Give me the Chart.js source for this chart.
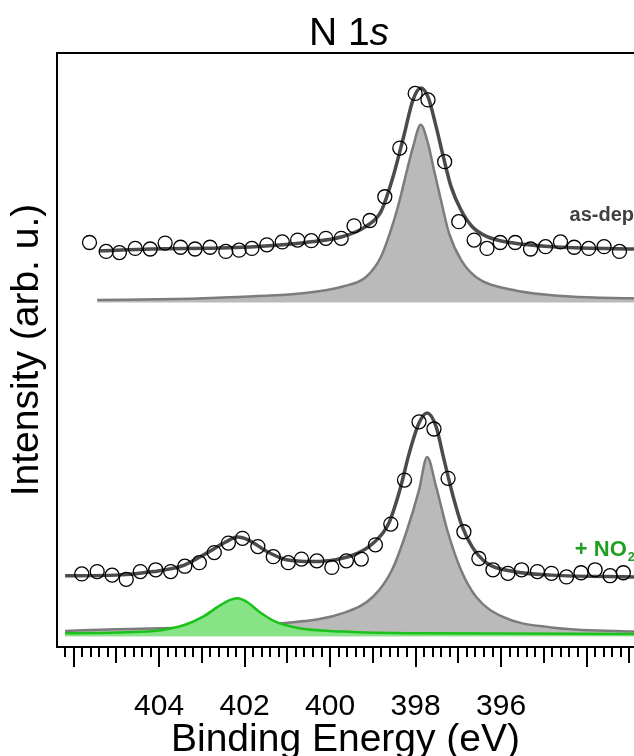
<!DOCTYPE html>
<html lang="en">
<head>
  <meta charset="UTF-8">
  <title>N 1s XPS</title>
  <script src="https://cdn.jsdelivr.net/npm/chart.js"></script>
  <style>
    html, body {
      margin: 0;
      overflow: hidden;
      background: #fff;
    }
    .chart-box {
      width: 634px;
      height: 756px;
    }
    canvas {
      display: block;
    }
  </style>
</head>
<body>
  <div class="chart-box">
    <canvas id="xpsChart"></canvas>
  </div>

  <script>
    // binding energy axis labels
    const energyTicks = [404, 402, 400, 398, 396];

    // as-deposited film: measured points
    const asDepEnergy = [405.63, 405.24, 404.93, 404.56, 404.21, 403.86, 403.50, 403.16, 402.81, 402.44,
      402.13, 401.83, 401.48, 401.12, 400.76, 400.44, 400.10, 399.74, 399.44, 399.07,
      398.72, 398.37, 398.01, 397.71, 397.32, 396.99, 396.63, 396.33, 396.02, 395.67,
      395.31, 394.96, 394.61, 394.29, 393.95, 393.59, 393.23];
    const asDepCounts = [68.1, 66.6, 66.4, 67.1, 67.0, 68.0, 67.3, 67.0, 67.3, 66.6,
      66.8, 67.1, 67.7, 68.2, 68.5, 68.4, 68.8, 68.8, 70.9, 71.8,
      75.8, 84.0, 93.2, 92.1, 81.7, 71.6, 68.5, 67.1, 68.1, 68.1,
      67.0, 67.4, 68.2, 67.3, 67.1, 67.4, 66.6];

    // as-deposited film: fit envelope
    const asDepFitEnergy = [405.41, 404.19, 402.35, 401.34, 400.58, 399.70, 399.16, 398.81, 398.55, 398.28,
      398.06, 397.88, 397.71, 397.52, 397.35, 397.17, 396.94, 396.68, 396.33, 395.71, 394.82, 392.89];
    const asDepFitCounts = [66.7, 67.0, 67.2, 67.6, 68.1, 69.1, 70.8, 73.3, 78.6, 85.9,
      92.1, 94.1, 92.6, 87.6, 82.5, 77.5, 73.6, 70.8, 69.1, 68.0, 67.4, 67.0];

    // as-deposited film: N 1s component
    const asDepPeakEnergy = [405.45, 403.62, 402.35, 400.58, 399.70, 399.16, 398.81, 398.55, 398.37, 398.20,
      398.06, 397.88, 397.71, 397.57, 397.39, 397.22, 396.94, 396.59, 395.71, 394.38, 392.89];
    const asDepPeakCounts = [58.4, 58.6, 58.9, 59.6, 60.7, 62.3, 65.7, 70.8, 75.3, 80.3,
      84.2, 87.9, 84.8, 80.3, 74.7, 69.7, 65.2, 62.3, 60.1, 59.0, 58.7];

    // after NO2 exposure: measured points
    const no2Energy = [405.81, 405.45, 405.10, 404.77, 404.44, 404.08, 403.73, 403.40, 403.06, 402.71,
      402.38, 402.05, 401.69, 401.33, 400.98, 400.67, 400.31, 399.96, 399.62, 399.27,
      398.94, 398.58, 398.26, 397.92, 397.57, 397.24, 396.87, 396.52, 396.19, 395.84,
      395.52, 395.15, 394.82, 394.47, 394.13, 393.80, 393.45, 393.14];
    const no2Counts = [12.3, 12.7, 12.1, 11.4, 12.7, 13.0, 12.7, 13.6, 14.2, 15.9,
      17.5, 18.3, 16.9, 15.2, 14.2, 14.8, 14.5, 13.4, 14.5, 14.8,
      17.2, 20.7, 28.1, 37.9, 36.7, 28.4, 19.4, 14.9, 13.0, 12.4,
      13.0, 12.7, 12.4, 11.8, 12.5, 13.0, 12.0, 12.5];

    // after NO2 exposure: fit envelope
    const no2FitEnergy = [406.20, 405.01, 404.13, 403.41, 402.89, 402.44, 402.17, 401.91, 401.46, 401.02,
      400.41, 399.87, 399.35, 398.99, 398.63, 398.37, 398.15, 397.92, 397.73, 397.52,
      397.35, 397.12, 396.91, 396.68, 396.33, 395.71, 394.82, 392.89];
    const no2FitCounts = [12.0, 12.1, 12.7, 13.8, 15.8, 17.7, 18.5, 18.0, 16.0, 14.7,
      14.4, 14.7, 15.8, 17.5, 20.8, 26.4, 32.6, 37.7, 39.4, 37.1,
      32.0, 25.3, 20.3, 16.9, 14.1, 12.7, 12.1, 11.8];

    // after NO2 exposure: main N 1s component
    const no2PeakEnergy = [406.20, 405.01, 403.24, 401.11, 399.70, 398.99, 398.55, 398.20, 397.92, 397.73,
      397.52, 397.26, 396.94, 396.59, 395.97, 394.82, 392.89];
    const no2PeakCounts = [2.7, 3.0, 3.3, 4.0, 5.7, 8.5, 13.0, 19.7, 26.4, 32.0,
      27.0, 19.7, 13.0, 8.5, 5.1, 3.3, 2.6];

    // after NO2 exposure: high binding energy component
    const no2ShoulderEnergy = [406.20, 404.13, 403.41, 402.97, 402.62, 402.35, 402.17, 401.95, 401.65, 401.29,
      400.76, 399.70, 397.92, 392.89];
    const no2ShoulderCounts = [2.3, 2.7, 3.7, 5.1, 6.8, 7.9, 8.2, 7.6, 5.9, 4.3,
      3.2, 2.6, 2.3, 2.2];

    const FONT = "'Liberation Sans', Arial, Helvetica, sans-serif";

    function pairs(xs, ys) {
      return xs.map((x, i) => ({ x: x, y: ys[i] }));
    }

    function pointSet(xs, ys) {
      return {
        data: pairs(xs, ys),
        showLine: false,
        pointStyle: 'circle',
        pointRadius: 7,
        pointBorderWidth: 1.3,
        pointBorderColor: '#000',
        pointBackgroundColor: 'rgba(0,0,0,0)'
      };
    }

    function curveSet(xs, ys, color, width, fill, fillColor) {
      return {
        data: pairs(xs, ys),
        borderColor: color,
        borderWidth: width,
        pointRadius: 0,
        cubicInterpolationMode: 'monotone',
        fill: fill,
        backgroundColor: fillColor || 'rgba(0,0,0,0)'
      };
    }

    // frame top line, tick marks, title and spectrum labels
    const decorations = {
      id: 'decorations',
      afterDraw(chart) {
        const ctx = chart.ctx;
        const area = chart.chartArea;
        const xs = chart.scales.x;
        ctx.save();

        ctx.strokeStyle = '#000';
        ctx.lineWidth = 2;
        ctx.beginPath();
        ctx.moveTo(area.left - 1, area.top);
        ctx.lineTo(area.right, area.top);
        ctx.stroke();

        // 0.2 eV minor ticks, longer at whole and even numbers
        for (let k = Math.ceil(xs.min * 5); k <= Math.floor(xs.max * 5); k++) {
          const px = Math.round(xs.getPixelForValue(k / 5));
          const len = k % 10 === 0 ? 20 : (k % 5 === 0 ? 16 : 10);
          ctx.beginPath();
          ctx.moveTo(px, area.bottom);
          ctx.lineTo(px, area.bottom + len);
          ctx.stroke();
        }

        // title: N 1s with italic s
        ctx.fillStyle = '#000';
        ctx.textBaseline = 'alphabetic';
        ctx.textAlign = 'left';
        ctx.font = '39px ' + FONT;
        const part1 = 'N 1';
        const w1 = ctx.measureText(part1).width;
        ctx.font = 'italic 39px ' + FONT;
        const w2 = ctx.measureText('s').width;
        const tx = 349 - (w1 + w2) / 2;
        ctx.font = '39px ' + FONT;
        ctx.fillText(part1, tx, 45);
        ctx.font = 'italic 39px ' + FONT;
        ctx.fillText('s', tx + w1, 45);

        // spectrum labels
        ctx.textAlign = 'right';
        ctx.font = 'bold 20px ' + FONT;
        ctx.fillStyle = '#404040';
        ctx.fillText('as-dep', 634, 221);

        ctx.fillStyle = '#1f9f1f';
        ctx.font = 'bold 13px ' + FONT;
        const ws = ctx.measureText('2').width;
        ctx.fillText('2', 635, 561);
        ctx.font = 'bold 22px ' + FONT;
        ctx.fillText('+ NO', 635 - ws - 1, 556);

        ctx.restore();
      }
    };

    new Chart(document.getElementById('xpsChart'), {
      type: 'line',
      data: {
        datasets: [
          pointSet(no2Energy, no2Counts),
          pointSet(asDepEnergy, asDepCounts),
          curveSet(no2FitEnergy, no2FitCounts, '#4b4b4b', 3.5, false),
          curveSet(asDepFitEnergy, asDepFitCounts, '#4b4b4b', 3.5, false),
          curveSet(no2ShoulderEnergy, no2ShoulderCounts, '#1cc21c', 2.5, { value: 1.8 }, '#86e486'),
          curveSet(no2PeakEnergy, no2PeakCounts, '#7c7c7c', 2.5, { value: 1.8 }, '#bababa'),
          curveSet(asDepPeakEnergy, asDepPeakCounts, '#7c7c7c', 2.5, { value: 58.0 }, '#bababa')
        ]
      },
      options: {
        responsive: true,
        maintainAspectRatio: false,
        animation: false,
        layout: {
          autoPadding: false,
          padding: { top: 53, right: 0, bottom: 0, left: 0 }
        },
        plugins: {
          legend: { display: false },
          tooltip: { enabled: false }
        },
        scales: {
          x: {
            type: 'linear',
            reverse: true,
            min: 392.89,
            max: 406.39,
            grid: { display: false, drawTicks: false },
            border: { display: true, width: 2, color: '#000' },
            afterBuildTicks(scale) {
              scale.ticks = energyTicks.map(v => ({ value: v }));
            },
            afterFit(scale) {
              scale.height = 109;
              scale.paddingLeft = 0;
              scale.paddingRight = 0;
            },
            ticks: {
              autoSkip: false,
              maxRotation: 0,
              padding: 42,
              color: '#000',
              font: { family: FONT, size: 30 }
            },
            title: {
              display: true,
              text: 'Binding Energy (eV)',
              color: '#000',
              font: { family: FONT, size: 39, lineHeight: 0.8 },
              padding: { top: 0, bottom: 0 }
            }
          },
          y: {
            min: 0,
            max: 100,
            grid: { display: false, drawTicks: false },
            border: { display: true, width: 2, color: '#000' },
            ticks: { display: false },
            afterFit(scale) {
              scale.width = 57;
              scale.paddingTop = 0;
              scale.paddingBottom = 0;
            },
            title: {
              display: true,
              text: 'Intensity (arb. u.)',
              color: '#000',
              font: { family: FONT, size: 39, lineHeight: 1 },
              padding: { top: 8, bottom: 0 }
            }
          }
        }
      },
      plugins: [decorations]
    });
  </script>
</body>
</html>
